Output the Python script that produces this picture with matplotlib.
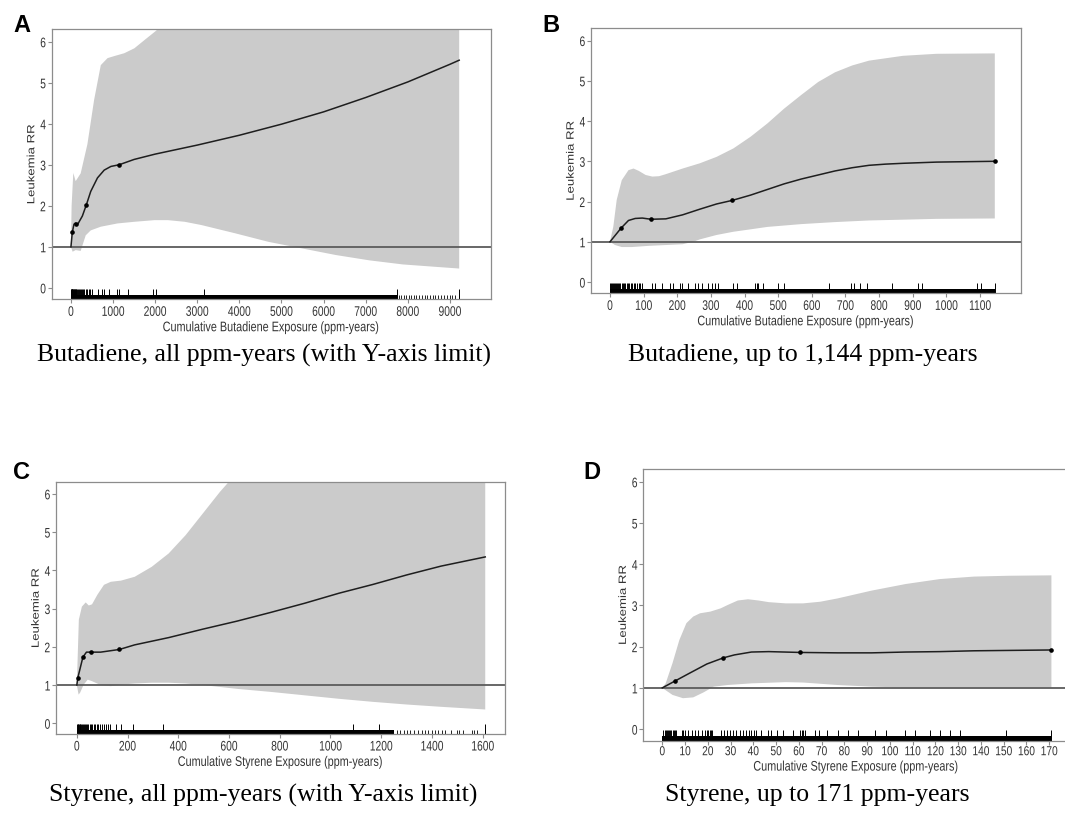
import numpy as np
import matplotlib
matplotlib.use("Agg")
import matplotlib.pyplot as plt
from matplotlib import patheffects
from matplotlib.transforms import Affine2D

plt.rcParams['font.family'] = ['Liberation Sans', 'DejaVu Sans']

# Panel A: butadiene, all ppm-years
a_curve_x = [0, 32, 72, 104, 121, 167, 271, 365, 470, 630, 790, 950, 1144, 1500, 2000, 3000, 4000, 5000, 6000, 7000, 8000, 9000, 9220]
a_curve_y = [1.0, 1.35, 1.55, 1.58, 1.56, 1.56, 1.75, 2.02, 2.35, 2.68, 2.87, 2.96, 3.0, 3.13, 3.26, 3.48, 3.72, 3.99, 4.29, 4.64, 5.02, 5.45, 5.55]
a_upper_x = [0, 16, 56, 112, 231, 391, 550, 709, 869, 1028, 1267, 1506, 1745, 2024, 2303, 3100, 5000, 7000, 9220]
a_upper_y = [1.0, 2.0, 2.8, 2.6, 2.79, 3.5, 4.58, 5.43, 5.6, 5.65, 5.72, 5.84, 6.04, 6.27, 6.6, 8.0, 11.0, 14.0, 18.0]
a_lower_x = [0, 40, 112, 231, 351, 470, 709, 1108, 1506, 1985, 2303, 2702, 3100, 3897, 4694, 5491, 6288, 7085, 7882, 8679, 9220]
a_lower_y = [1.0, 0.88, 0.92, 0.9, 1.28, 1.4, 1.49, 1.57, 1.61, 1.65, 1.65, 1.61, 1.53, 1.33, 1.12, 0.96, 0.8, 0.67, 0.57, 0.51, 0.47]
a_knot_x = [32, 121, 365, 1144]
a_knot_y = [1.35, 1.56, 2.02, 3.0]
a_rug_tall = [3, 8, 14, 20, 27, 35, 44, 52, 62, 75, 88, 100, 115, 130, 150, 170, 195, 215, 240, 265, 290, 320, 350,
              380, 420, 460, 510, 650, 730, 780, 910, 1085, 1150, 1345, 1955, 2010, 3166, 7734, 9220]
a_rug_dense = [0, 7760]
a_rug_short = [7800, 7850, 7900, 7960, 8020, 8070, 8140, 8200, 8260, 8330, 8400, 8460, 8530, 8600, 8650, 8720, 8790,
               8850, 8920, 9000, 9050, 9120, 9220]

# Panel B: butadiene, up to 1,144 ppm-years
b_curve_x = [0, 33, 55, 75, 96, 122, 166, 216, 267, 317, 364, 418, 468, 518, 569, 619, 669, 720, 770, 820, 871, 971, 1144]
b_curve_y = [1.0, 1.34, 1.53, 1.58, 1.59, 1.56, 1.57, 1.67, 1.81, 1.94, 2.03, 2.16, 2.30, 2.44, 2.56, 2.66, 2.76, 2.84, 2.90, 2.93, 2.95, 2.98, 3.0]
b_upper_x = [0, 10, 20, 35, 55, 70, 86, 106, 126, 146, 166, 216, 267, 317, 367, 418, 468, 518, 569, 619, 669, 720, 770, 871, 971, 1144]
b_upper_y = [1.0, 1.38, 2.04, 2.53, 2.78, 2.82, 2.76, 2.66, 2.62, 2.63, 2.68, 2.82, 2.95, 3.11, 3.32, 3.61, 3.94, 4.31, 4.65, 4.97, 5.21, 5.38, 5.50, 5.62, 5.67, 5.68]
b_lower_x = [0, 15, 35, 65, 116, 166, 216, 247, 267, 317, 367, 418, 468, 569, 669, 770, 871, 971, 1144]
b_lower_y = [1.0, 0.92, 0.87, 0.87, 0.9, 0.92, 0.94, 1.0, 1.06, 1.17, 1.25, 1.31, 1.37, 1.44, 1.49, 1.53, 1.55, 1.57, 1.58]
b_knot_x = [33, 122, 364, 1144]
b_knot_y = [1.34, 1.56, 2.03, 3.0]
b_rug_tall = [1, 4, 7, 10, 13, 16, 19, 22, 25, 28, 31, 35, 38, 42, 46, 50, 54, 58, 62, 66, 70, 75, 80, 85, 90, 95,
              124, 134, 154, 178, 188, 208, 213, 233, 253, 263, 273, 292, 302, 312, 322, 367, 379, 431, 436, 441, 454,
              500, 518, 652, 718, 725, 743, 763, 839, 917, 927, 1090, 1103, 1144]
b_rug_dense = [0, 1144]
b_rug_short = []

# Panel C: styrene, all ppm-years
c_curve_x = [0, 4, 24, 38, 56, 94, 168, 228, 362, 496, 631, 765, 899, 1033, 1167, 1301, 1436, 1610]
c_curve_y = [1.0, 1.19, 1.73, 1.86, 1.86, 1.86, 1.93, 2.05, 2.24, 2.46, 2.67, 2.90, 3.14, 3.40, 3.63, 3.88, 4.11, 4.35]
c_upper_x = [0, 8, 20, 35, 47, 60, 81, 107, 134, 174, 228, 295, 362, 429, 496, 564, 604, 700, 900, 1200, 1610]
c_upper_y = [1.0, 2.71, 3.05, 3.16, 3.08, 3.11, 3.36, 3.62, 3.70, 3.73, 3.83, 4.09, 4.44, 4.92, 5.48, 6.05, 6.35, 7.5, 10.0, 14.0, 20.0]
c_lower_x = [0, 7, 13, 27, 43, 60, 94, 134, 174, 228, 295, 362, 429, 496, 631, 765, 899, 1033, 1167, 1301, 1436, 1610]
c_lower_y = [1.0, 0.75, 0.8, 1.01, 1.14, 1.10, 1.0, 0.97, 1.01, 1.04, 1.06, 1.06, 1.04, 1.0, 0.9, 0.82, 0.73, 0.64, 0.56, 0.49, 0.43, 0.36]
c_knot_x = [4, 24, 56, 168]
c_knot_y = [1.19, 1.73, 1.86, 1.93]
c_rug_tall = [1, 3, 5, 8, 11, 14, 17, 20, 24, 28, 32, 36, 40, 45, 50, 55, 60, 66, 72, 78, 85, 92, 100, 108, 116, 124,
              131, 155, 175, 221, 339, 1088, 1193, 1610]
c_rug_dense = [0, 1250]
c_rug_short = [1262, 1275, 1290, 1300, 1315, 1330, 1345, 1360, 1372, 1385, 1400, 1412, 1425, 1440, 1452, 1474, 1497,
               1508, 1524, 1557, 1567, 1579, 1610]

# Panel D: styrene, up to 171 ppm-years
d_curve_x = [0, 5.7, 12.1, 19.6, 26.9, 31.7, 39.2, 46.8, 60.4, 77, 92, 107, 122, 137, 171]
d_curve_y = [1.0, 1.17, 1.36, 1.58, 1.73, 1.80, 1.87, 1.88, 1.86, 1.85, 1.85, 1.87, 1.88, 1.90, 1.92]
d_upper_x = [0, 1.5, 4.5, 7.5, 10.6, 13.6, 16.6, 21.1, 25.7, 28.7, 33.2, 37.7, 42.3, 46.8, 54.3, 61.9, 69.4, 77, 92, 107, 122, 137, 152, 171]
d_upper_y = [1.0, 1.11, 1.6, 2.16, 2.57, 2.73, 2.81, 2.85, 2.93, 3.01, 3.12, 3.15, 3.12, 3.08, 3.05, 3.05, 3.09, 3.17, 3.36, 3.52, 3.64, 3.70, 3.72, 3.73]
d_lower_x = [0, 4.5, 9.1, 13.6, 18.1, 22.6, 28.7, 39.2, 54.3, 61.9, 77, 92, 107, 122, 171]
d_lower_y = [1.0, 0.83, 0.75, 0.77, 0.89, 1.03, 1.07, 1.11, 1.14, 1.13, 1.07, 1.03, 1.01, 1.01, 1.01]
d_knot_x = [5.7, 26.9, 60.4, 171]
d_knot_y = [1.17, 1.73, 1.86, 1.92]
d_rug_tall = [0.5, 1, 1.5, 2, 2.5, 3, 3.5, 4, 4.5, 5, 5.5, 6, 8.5, 9.2, 10, 11.4, 12.9, 14.3, 15.8, 17.3, 18.7, 19.8,
              20.3, 20.8, 21.2, 21.7, 26, 27.2, 28.3, 29.7, 31.2, 32.6, 34.1, 35.6, 37, 38.2, 39.2, 40.2, 41.4, 43.2,
              46.6, 48, 50.2, 53.1, 57.5, 60.5, 61.2, 61.9, 62.7, 67, 69, 72.2, 77.3, 81.7, 86, 93.4, 98.2, 106.6,
              111, 117.6, 122, 126.6, 130.7, 151.2, 171]
d_rug_dense = [0, 171]
d_rug_short = []

y_ticks = [0, 1, 2, 3, 4, 5, 6]


# the chart's own text is horizontally squeezed, so narrow the glyph paths on screen
class Squeeze(patheffects.AbstractPathEffect):
    def __init__(self, sx, anchor='center'):
        super().__init__()
        self.sx = sx
        self.anchor = anchor

    def draw_path(self, renderer, gc, tpath, affine, rgbFace=None):
        ext = tpath.get_extents(affine)
        if self.anchor == 'right':
            cx = ext.x1
        else:
            cx = (ext.x0 + ext.x1) / 2
        t = affine + Affine2D().translate(-cx, 0).scale(self.sx, 1).translate(cx, 0)
        renderer.draw_path(gc, tpath, t, rgbFace)


fig = plt.figure(figsize=(10.65, 8.27), dpi=100)


def draw_panel(pos, xlim, xticks, xlabel, cx, cy, ux, uy, lx, ly, kx, ky, rug_tall, rug_dense, rug_short,
               tsize=10, tsq=0.74):
    ax = fig.add_axes(pos)
    ax.fill(np.r_[ux, lx[::-1]], np.r_[uy, ly[::-1]], color='#cbcbcb', lw=0)
    ax.axhline(1, color='#5c5c5c', lw=1.3)
    ax.plot(cx, cy, color='#1e1e1e', lw=1.1)
    ax.plot(kx, ky, 'o', color='black', ms=2.3)
    ax.vlines(rug_tall, -0.35, -0.03, color='black', lw=0.7)
    ax.fill_between(rug_dense, -0.35, -0.165, color='black', lw=0)
    if rug_short:
        ax.vlines(rug_short, -0.35, -0.165, color='black', lw=0.6)
    ax.set_xlim(xlim)
    ax.set_ylim(-0.28, 6.31)
    ax.set_xticks(xticks)
    ax.set_yticks(y_ticks)
    xl = ax.set_xlabel(xlabel, fontsize=10, color='#333333', labelpad=1)
    yl = ax.set_ylabel('Leukemia RR', fontsize=9.5, color='#333333', labelpad=0)
    xl.set_path_effects([Squeeze(0.78)])
    yl.set_path_effects([Squeeze(0.8)])
    ax.tick_params(length=3, width=0.8, color='#8c8c8c', labelcolor='#333333', labelsize=tsize, pad=1)
    ax.tick_params(axis='y', labelsize=10)
    for t in ax.get_xticklabels():
        t.set_path_effects([Squeeze(tsq)])
    for t in ax.get_yticklabels():
        t.set_path_effects([Squeeze(0.74, 'right')])
    for s in ax.spines.values():
        s.set_color('#8c8c8c')
        s.set_linewidth(0.9)
    return ax


draw_panel([0.0485, 0.6381, 0.4122, 0.3268], (-458, 9967), range(0, 9001, 1000),
           'Cumulative Butadiene Exposure (ppm-years)',
           a_curve_x, a_curve_y, a_upper_x, a_upper_y, a_lower_x, a_lower_y, a_knot_x, a_knot_y,
           a_rug_tall, a_rug_dense, a_rug_short)
draw_panel([0.5549, 0.6453, 0.4035, 0.3208], (-56.5, 1221), range(0, 1101, 100),
           'Cumulative Butadiene Exposure (ppm-years)',
           b_curve_x, b_curve_y, b_upper_x, b_upper_y, b_lower_x, b_lower_y, b_knot_x, b_knot_y,
           b_rug_tall, b_rug_dense, b_rug_short)
draw_panel([0.0526, 0.1125, 0.4216, 0.3047], (-82, 1688), range(0, 1601, 200),
           'Cumulative Styrene Exposure (ppm-years)',
           c_curve_x, c_curve_y, c_upper_x, c_upper_y, c_lower_x, c_lower_y, c_knot_x, c_knot_y,
           c_rug_tall, c_rug_dense, c_rug_short)
draw_panel([0.6040, 0.1044, 0.3997, 0.3285], (-8.35, 178.7), range(0, 171, 10),
           'Cumulative Styrene Exposure (ppm-years)',
           d_curve_x, d_curve_y, d_upper_x, d_upper_y, d_lower_x, d_lower_y, d_knot_x, d_knot_y,
           d_rug_tall, d_rug_dense, d_rug_short, tsize=9.4, tsq=0.78)

for lab, x, y in [('A', 22, 26), ('B', 551, 26), ('C', 21, 473), ('D', 592, 473)]:
    fig.text(x / 1065, 1 - y / 827, lab, fontsize=17, fontweight='bold', ha='center', va='center')

captions = ['Butadiene, all ppm-years (with Y-axis limit)', 'Butadiene, up to 1,144 ppm-years',
            'Styrene, all ppm-years (with Y-axis limit)', 'Styrene, up to 171 ppm-years']
for cap, x, y in zip(captions, [264, 803, 263, 817], [355, 355, 795, 795]):
    fig.text(x / 1065, 1 - y / 827, cap, fontsize=18.5, family='Liberation Serif', ha='center', va='center')

fig.savefig('out.png', dpi=100)
